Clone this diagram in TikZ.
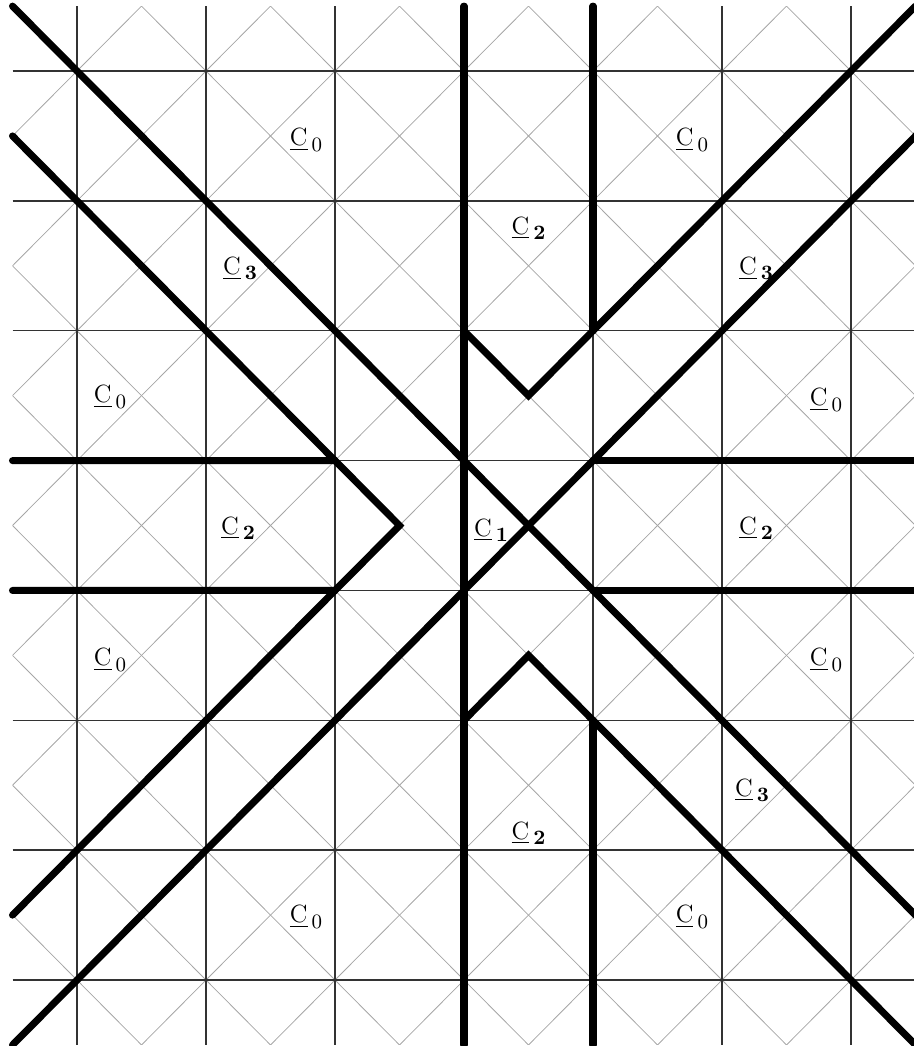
\documentclass[tikz,border=0pt]{standalone}
\tikzset{
  thickline/.style={line width=3.1pt, line cap=round, black},
  gridline/.style={line width=0.6pt, black!80},
  diagline/.style={line width=0.35pt, black!35},
  lbl/.style={inner sep=0pt, font=\fontsize{11}{13}\selectfont},
}
\newcommand{\celllabel}[1]{\underline{C}\kern1.8pt\raisebox{-0.5ex}{\fontsize{9}{10}\selectfont #1}}
\begin{document}
\begin{tikzpicture}[x=2cm,y=2.0133cm]
\clip (-4.097,-4.008) rectangle (2.988,4.047);
% faint diagonals
\begin{scope}
\clip (-4,-4) rectangle (4,4);
\foreach \k in {-8,...,8} {
  \draw[diagline] (\k-5,-5) -- (\k+5,5);
  \draw[diagline] (\k+5,-5) -- (\k-5,5);
}
\end{scope}
% grid
\foreach \i in {-3.5,-2.5,...,3.5} {
  \draw[gridline] (\i,-4) -- (\i,4);
  \draw[gridline] (-4,\i) -- (4,\i);
}
% thick walls
\draw[thickline] (-4,4) -- (4,-4);
\draw[thickline] (-4,-4) -- (4,4);
\draw[thickline] (-0.5,4) -- (-0.5,-4);
\draw[thickline] (0.5,4) -- (0.5,1.5);
\draw[thickline] (-0.5,1.5) -- (0,1) -- (0.5,1.5) -- (3,4);
\draw[thickline] (0.5,-4) -- (0.5,-1.5);
\draw[thickline] (-0.5,-1.5) -- (0,-1) -- (0.5,-1.5) -- (3,-4);
\draw[thickline] (-4,0.5) -- (-1.5,0.5) -- (-1,0) -- (-1.5,-0.5) -- (-4,-0.5);
\draw[thickline] (-4,3) -- (-1.5,0.5);
\draw[thickline] (-4,-3) -- (-1.5,-0.5);
\draw[thickline] (0.5,0.5) -- (4,0.5);
\draw[thickline] (0.5,-0.5) -- (4,-0.5);
% labels
\node[lbl] (l1)  at (-1.725, 2.97)  {\celllabel{0}};
\node[lbl] (l2)  at (1.267, 2.97)   {\celllabel{0}};
\node[lbl] (l3)  at (0, 2.29)       {\celllabel{\textbf{2}}};
\node[lbl] (l4)  at (-2.236, 1.98)  {\celllabel{\textbf{3}}};
\node[lbl] (l5)  at (1.764, 1.98)   {\celllabel{\textbf{3}}};
\node[lbl] (l6)  at (-3.244, 0.99)  {\celllabel{0}};
\node[lbl] (l7)  at (2.306, 0.966)  {\celllabel{0}};
\node[lbl] (l8)  at (-2.252, -0.02) {\celllabel{\textbf{2}}};
\node[lbl] (l9)  at (-0.29, -0.035) {\celllabel{\textbf{1}}};
\node[lbl] (l10) at (1.764, -0.02)  {\celllabel{\textbf{2}}};
\node[lbl] (l11) at (-3.244, -1.036){\celllabel{0}};
\node[lbl] (l12) at (2.306, -1.036) {\celllabel{0}};
\node[lbl] (l13) at (1.733, -2.037) {\celllabel{\textbf{3}}};
\node[lbl] (l14) at (0, -2.368)     {\celllabel{\textbf{2}}};
\node[lbl] (l15) at (-1.725, -3.015){\celllabel{0}};
\node[lbl] (l16) at (1.267, -3.015) {\celllabel{0}};
\end{tikzpicture}
\end{document}
